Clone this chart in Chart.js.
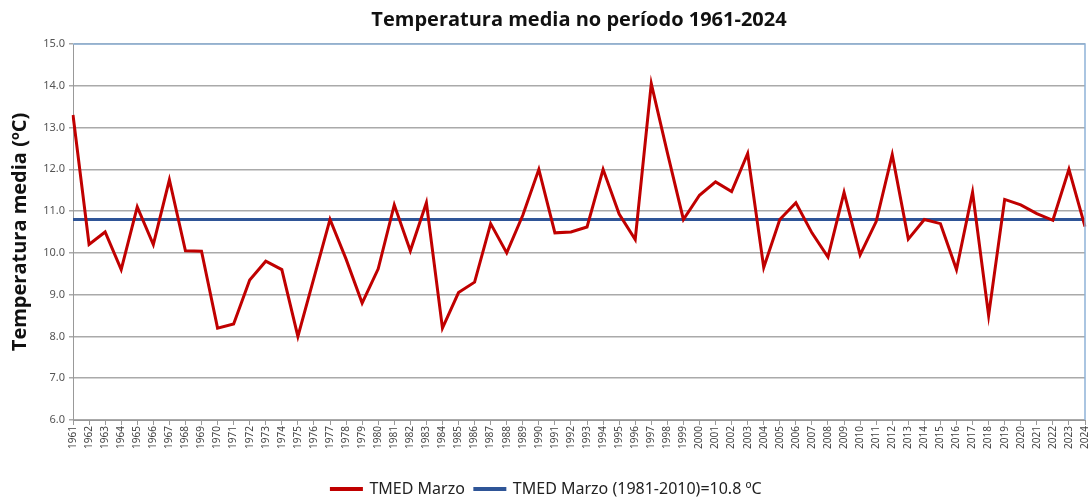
<!DOCTYPE html>
<html>
<head>
<meta charset="utf-8">
<script src="https://cdn.jsdelivr.net/npm/chart.js@4"></script>
<style>
  html, body { margin: 0; padding: 0; background: #fff; }
  #wrap { width: 1088px; height: 500px; }
</style>
</head>
<body>
<div id="wrap"><canvas id="chart" width="1088" height="500"></canvas></div>
<script>
const years = ['1961','1962','1963','1964','1965','1966','1967','1968','1969','1970',
  '1971','1972','1973','1974','1975','1976','1977','1978','1979','1980',
  '1981','1982','1983','1984','1985','1986','1987','1988','1989','1990',
  '1991','1992','1993','1994','1995','1996','1997','1998','1999','2000',
  '2001','2002','2003','2004','2005','2006','2007','2008','2009','2010',
  '2011','2012','2013','2014','2015','2016','2017','2018','2019','2020',
  '2021','2022','2023','2024'];

const tmedMarzo = [13.3, 10.2, 10.5, 9.6, 11.1, 10.2, 11.75, 10.05, 10.04, 8.2,
  8.3, 9.35, 9.8, 9.6, 8.0, 9.4, 10.8, 9.85, 8.8, 9.62,
  11.15, 10.05, 11.2, 8.2, 9.05, 9.3, 10.7, 10.0, 10.9, 12.0,
  10.48, 10.5, 10.62, 12.0, 10.93, 10.32, 14.05, 12.4, 10.8, 11.38,
  11.7, 11.47, 12.38, 9.65, 10.8, 11.2, 10.48, 9.9, 11.45, 9.95,
  10.75, 12.35, 10.33, 10.8, 10.7, 9.6, 11.45, 8.5, 11.28, 11.15,
  10.94, 10.78, 12.0, 10.63];

const mediaRef = 10.8;
const refPoints = [{ x: '1961', y: mediaRef }, { x: '2024', y: mediaRef }];

// top and right border of the plot area, light blue like the original
const frame = {
  id: 'frame',
  afterDraw(chart) {
    const { ctx, chartArea: a } = chart;
    ctx.save();
    ctx.strokeStyle = '#8eb2d8';
    ctx.lineWidth = 1.5;
    ctx.beginPath();
    ctx.moveTo(a.left, a.top);
    ctx.lineTo(a.right, a.top);
    ctx.lineTo(a.right, a.bottom);
    ctx.stroke();
    ctx.restore();
  }
};

const ctx = document.getElementById('chart').getContext('2d');
const chart = new Chart(ctx, {
  type: 'line',
  data: {
    labels: years,
    datasets: [{
      label: 'TMED Marzo',
      data: tmedMarzo,
      borderColor: '#c00000',
      backgroundColor: '#c00000',
      borderWidth: 3,
      pointRadius: 0,
      tension: 0,
    }, {
      label: 'TMED Marzo (1981-2010)=10.8 ºC',
      data: refPoints,
      borderColor: '#2f5597',
      backgroundColor: '#2f5597',
      borderWidth: 3,
      pointRadius: 0,
    }],
  },
  options: {
    responsive: false,
    animation: false,
    layout: { padding: { left: 8, right: 3, top: 0, bottom: -7 } },
    plugins: {
      title: {
        display: true,
        fullSize: false,
        text: 'Temperatura media no período 1961-2024',
        color: '#111',
        font: { family: 'Open Sans', size: 20, weight: 'bold' },
        padding: { top: 8, bottom: 12 },
      },
      legend: {
        position: 'bottom',
        labels: {
          boxWidth: 30,
          boxHeight: 1,
          color: '#222',
          padding: 10,
          font: { family: 'Noto Sans', size: 16 },
        },
      },
      tooltip: { enabled: false },
    },
    scales: {
      x: {
        offset: false,
        grid: { drawOnChartArea: false, tickLength: 5, color: '#999' },
        border: { color: '#999', width: 1 },
        ticks: {
          minRotation: 90,
          maxRotation: 90,
          autoSkip: false,
          padding: 1,
          color: '#444',
          font: { family: 'Noto Sans', size: 10 },
        },
        afterFit(scale) {
          scale.height = 51;
          // let the last year label run to the canvas edge like the original
          scale.paddingLeft = 0;
          scale.paddingRight = 0;
        },
      },
      y: {
        min: 6,
        max: 15,
        ticks: {
          stepSize: 1,
          color: '#555',
          padding: 4,
          font: { family: 'Noto Sans', size: 11 },
          callback: v => v.toFixed(1),
        },
        grid: { color: '#aaa', lineWidth: 1.5, tickLength: 4 },
        border: { color: '#999', width: 1 },
        title: {
          display: true,
          text: 'Temperatura media (ºC)',
          color: '#111',
          font: { family: 'Open Sans', size: 20, weight: 'bold' },
          padding: 0,
        },
        afterFit(scale) { scale.width = 65; },
      },
    },
  },
  plugins: [frame],
});
</script>
</body>
</html>
